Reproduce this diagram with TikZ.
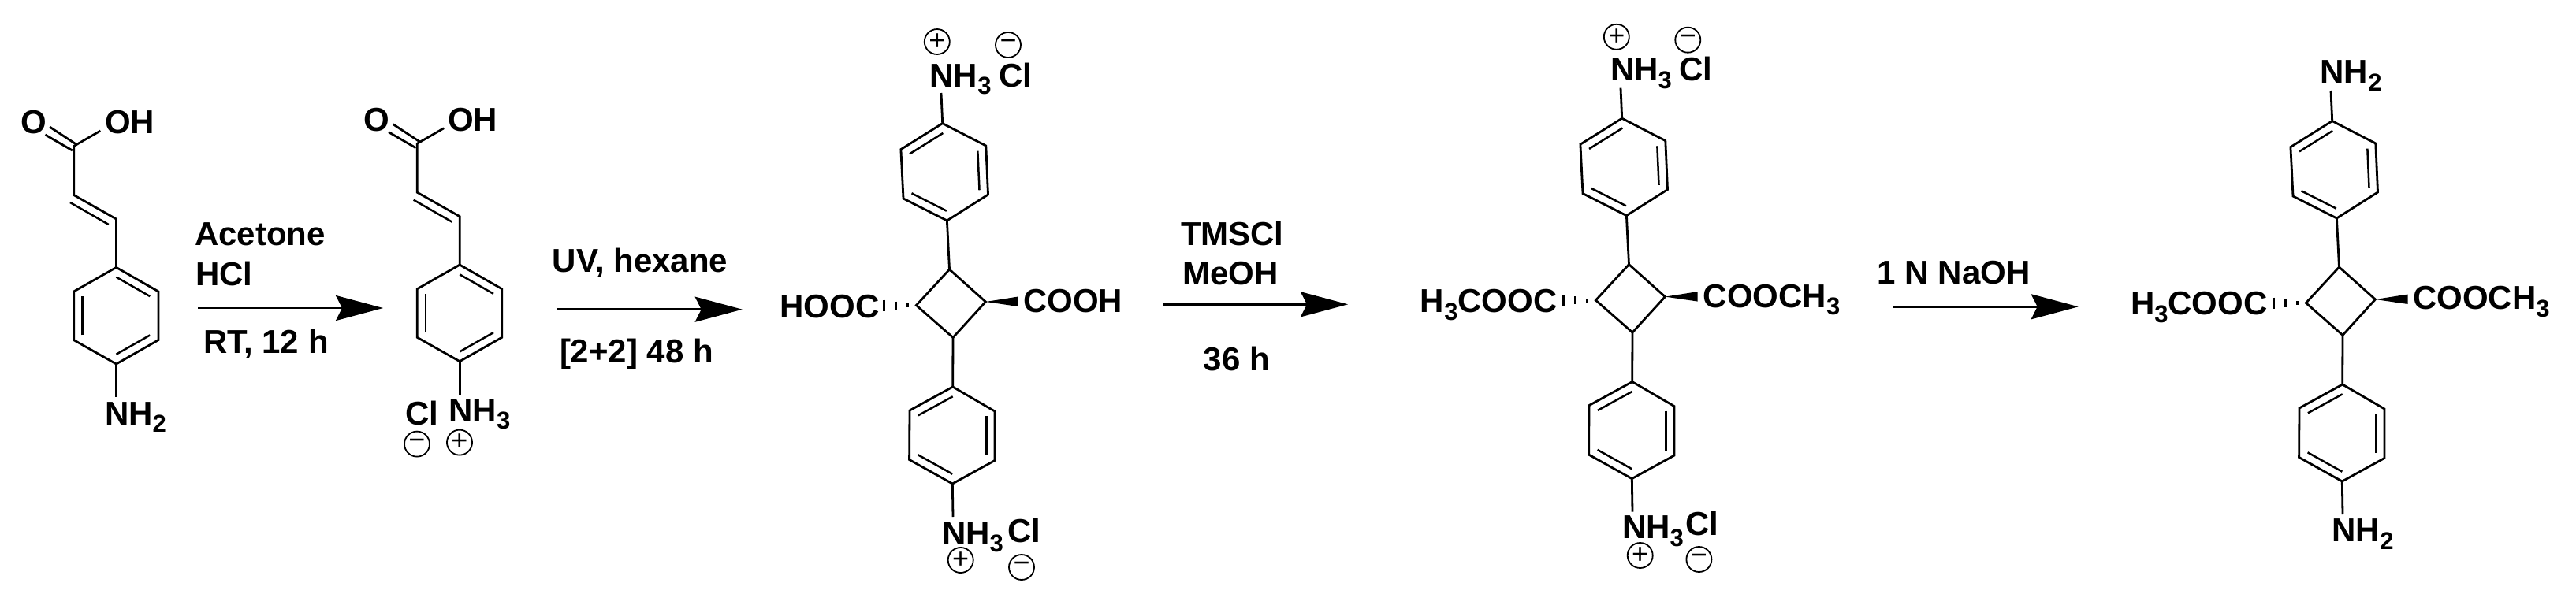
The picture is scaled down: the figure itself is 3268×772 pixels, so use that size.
\documentclass[tikz,border=0pt]{standalone}
\usepackage{fontspec}
\setmainfont{Liberation Sans}
\usetikzlibrary{arrows.meta,calc}
\newcommand{\sbs}[1]{\raisebox{-0.23em}{\fontsize{15.5}{16}\selectfont #1}}
\tikzset{
  bond/.style={line width=1.4pt,line join=miter,line cap=butt},
  inbond/.style={line width=1.25pt,line cap=butt},
  lab/.style={anchor=base west,inner sep=0pt,outer sep=0pt,font=\fontsize{21}{25}\selectfont\bfseries},
  chg/.style={circle,draw,line width=0.9pt,minimum size=16pt,inner sep=0pt,font=\fontsize{18}{18}\selectfont},
  rxn/.style={line width=1.25pt,-{Stealth[length=30pt,width=16pt,inset=4pt]}},
}
% inner line of a double bond: edge a-b pulled toward centre c
\newcommand{\inl}[3]{\draw[inbond] ($(#1)!.2!(#3)$) -- ($(#2)!.2!(#3)$);}
% benzene ring from six vertices
\newcommand{\ringdraw}[1]{%
  \coordinate (#1c) at ($(#1a)!.5!(#1d)$);
  \draw[bond] (#1a) -- (#1b) -- (#1c2) -- (#1d) -- (#1e) -- (#1f) -- cycle;
}
% cinnamic acid fragment, in the coordinates of the first molecule
\newcommand{\cinn}[3]{%
\begin{scope}[shift={(#2,#3)}]
  \coordinate (#1co) at (93.6,185.5);
  \coordinate (#1v1) at (93.6,247.5);
  \coordinate (#1v2) at (147.5,278);
  \coordinate (#1iv1) at (89,257);
  \coordinate (#1iv2) at (137.8,285);
  \coordinate (#1o1) at (57.4,171);
  \coordinate (#1o2) at (91.8,191);
  \coordinate (#1o3) at (63,161);
  \coordinate (#1o4) at (98,184);
  \coordinate (#1oh) at (127.4,166);
  \coordinate (#1a) at (147.5,339.4);
  \coordinate (#1b) at (201,370);
  \coordinate (#1c2) at (201,431.6);
  \coordinate (#1d) at (147.5,462);
  \coordinate (#1e) at (93.6,431.6);
  \coordinate (#1f) at (93.6,370);
  \coordinate (#1n) at (147.5,504);
  \ringdraw{#1}
  \inl{#1a}{#1b}{#1c}
  \inl{#1c2}{#1d}{#1c}
  \inl{#1e}{#1f}{#1c}
  \draw[bond] (#1oh) -- (#1co) -- (#1v1) -- (#1v2) -- (#1a);
  \draw[bond] (#1d) -- (#1n);
  \draw[inbond] (#1iv1) -- (#1iv2);
  \draw[bond] (#1o1) -- (#1o2);
  \draw[bond] (#1o3) -- (#1o4);
\end{scope}}
% cyclobutane core with two aryl rings, in the coordinates of the third molecule
\newcommand{\core}[3]{%
\begin{scope}[shift={(#2,#3)}]
  \coordinate (#1ta) at (1195.7,156.6);
  \coordinate (#1tb) at (1250.8,185);
  \coordinate (#1tc2) at (1253.5,247);
  \coordinate (#1td) at (1201.4,280);
  \coordinate (#1te) at (1146,252);
  \coordinate (#1tf) at (1142.9,189.6);
  \coordinate (#1tn) at (1194,118);
  \ringdraw{#1t}
  \inl{#1tf}{#1ta}{#1tc}
  \inl{#1tb}{#1tc2}{#1tc}
  \inl{#1td}{#1te}{#1tc}
  \draw[bond] (#1tn) -- (#1ta);
  \coordinate (#1q1) at (1204.5,342);
  \coordinate (#1q2) at (1250.4,383);
  \coordinate (#1q3) at (1209,428.4);
  \coordinate (#1q4) at (1162.4,387.5);
  \draw[bond] (#1q1) -- (#1q2) -- (#1q3) -- (#1q4) -- cycle;
  \draw[bond] (#1td) -- (#1q1);
  \coordinate (#1ba) at (1208.7,491);
  \coordinate (#1bb) at (1262,522);
  \coordinate (#1bc2) at (1262,584.5);
  \coordinate (#1bd) at (1208.3,614);
  \coordinate (#1be) at (1153.6,583.5);
  \coordinate (#1bf) at (1154,521);
  \coordinate (#1bn) at (1209,656);
  \ringdraw{#1b}
  \inl{#1bf}{#1ba}{#1bc}
  \inl{#1bb}{#1bc2}{#1bc}
  \inl{#1bd}{#1be}{#1bc}
  \draw[bond] (#1q3) -- (#1ba);
  \draw[bond] (#1bd) -- (#1bn);
  % wedge
  \coordinate (#1w1) at (1291.7,376.5);
  \coordinate (#1w2) at (1291.7,389);
  \fill (#1q2) -- (#1w1) -- (#1w2) -- cycle;
  % hash
  \coordinate (#1h1) at (1151.7,387.5);
  \coordinate (#1h2) at (1136.4,387.5);
  \coordinate (#1h3) at (1121,387.5);
  \draw[line width=1.5pt] ($(#1h1)+(0,-2.5)$) -- ($(#1h1)+(0,2.5)$);
  \draw[line width=1.5pt] ($(#1h2)+(0,-5)$) -- ($(#1h2)+(0,5)$);
  \draw[line width=1.5pt] ($(#1h3)+(0,-7)$) -- ($(#1h3)+(0,7)$);
\end{scope}}
\newcommand{\rxnarrow}[4]{%
  \coordinate (#1s) at (#2,#4);
  \coordinate (#1e) at (#3,#4);
  \draw[rxn] (#1s) -- (#1e);}
\begin{document}
\begin{tikzpicture}[x=0.5pt,y=-0.5pt]
\useasboundingbox (0,0) rectangle (3268,772);
% molecule 1
\cinn{A}{0}{0}
\node[lab] (A-O) at (26,169) {O};
\node[lab] (A-OH) at (133,169) {OH};
\node[lab] (A-N) at (133,539) {NH\sbs{2}};
% arrow 1
\rxnarrow{R1}{251}{486}{391}
\node[lab] (R1-a) at (247,311.5) {Acetone};
\node[lab] (R1-b) at (248,362) {HCl};
\node[lab] (R1-c) at (258,448) {RT, 12 h};
% molecule 2
\cinn{B}{435.7}{-3.3}
\node[lab] (B-O) at (461,166) {O};
\node[lab] (B-OH) at (568,166) {OH};
\node[lab] (B-Cl) at (514,539) {Cl};
\node[lab] (B-N) at (569.5,535) {NH\sbs{3}};
\node[chg] (B-m) at (529,563.6) {−};
\node[chg] (B-p) at (583,561.6) {+};
% arrow 2
\rxnarrow{R2}{706}{941.7}{392.7}
\node[lab] (R2-a) at (700.7,345) {UV, hexane};
\node[lab] (R2-b) at (710,460.7) {[2+2] 48 h};
% molecule 3
\core{C}{0}{0}
\node[lab] (C-N1) at (1179.6,110) {NH\sbs{3}};
\node[lab] (C-Cl1) at (1267.6,110) {Cl};
\node[chg] (C-p1) at (1188.8,53) {+};
\node[chg] (C-m1) at (1279,57) {−};
\node[lab] (C-L) at (989.4,403.7) {HOOC};
\node[lab] (C-R) at (1298,396) {COOH};
\node[lab] (C-N2) at (1195,691) {NH\sbs{3}};
\node[lab] (C-Cl2) at (1278,688) {Cl};
\node[chg] (C-p2) at (1218.7,711) {+};
\node[chg] (C-m2) at (1296,720) {−};
% arrow 3
\rxnarrow{R3}{1475}{1710}{386.3}
\node[lab] (R3-a) at (1498,311.7) {TMSCl};
\node[lab] (R3-b) at (1500,361.7) {MeOH};
\node[lab] (R3-c) at (1526.7,470) {36 h};
% molecule 4
\core{D}{862}{-6.4}
\node[lab] (D-N1) at (2043,102.4) {NH\sbs{3}};
\node[lab] (D-Cl1) at (2130,102.4) {Cl};
\node[chg] (D-p1) at (2050.8,46.8) {+};
\node[chg] (D-m1) at (2141.3,50.7) {−};
\node[lab] (D-L) at (1801.9,396.4) {H\sbs{3}COOC};
\node[lab] (D-R) at (2160.8,390) {COOCH\sbs{3}};
\node[lab] (D-N2) at (2058,683.4) {NH\sbs{3}};
\node[lab] (D-Cl2) at (2138,679.5) {Cl};
\node[chg] (D-p2) at (2080.7,705) {+};
\node[chg] (D-m2) at (2155.4,710) {−};
% arrow 4
\rxnarrow{R4}{2401.7}{2636.7}{389.3}
\node[lab] (R4-a) at (2381.7,360) {1 N NaOH};
% molecule 5
\core{E}{1763}{-3}
\node[lab] (E-N1) at (2943.6,105.9) {NH\sbs{2}};
\node[lab] (E-L) at (2703,399.8) {H\sbs{3}COOC};
\node[lab] (E-R) at (3061,392.4) {COOCH\sbs{3}};
\node[lab] (E-N2) at (2958.6,687.8) {NH\sbs{2}};
\end{tikzpicture}
\end{document}
